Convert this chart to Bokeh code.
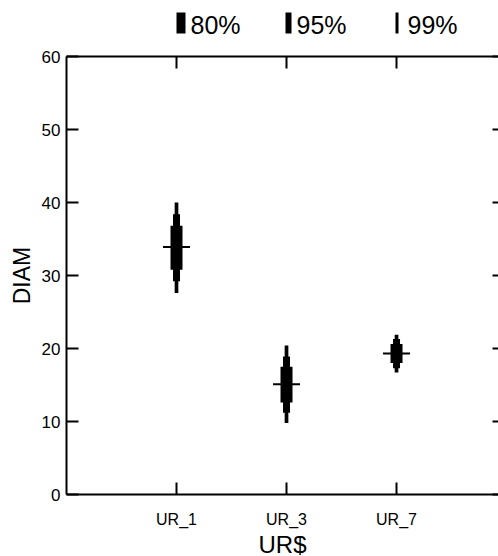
from bokeh.plotting import figure
from bokeh.models import Range1d, LinearAxis, FixedTicker, ColumnDataSource
from bokeh.layouts import column
from bokeh.embed import file_html
from bokeh.resources import INLINE
from bokeh.core.properties import value

# ---- data ----
categories = ["UR_1", "UR_3", "UR_7"]
means = [33.9, 15.1, 19.3]
lo80 = [30.8, 12.6, 18.0]
hi80 = [36.8, 17.5, 20.6]
lo95 = [29.2, 11.2, 17.3]
hi95 = [38.4, 18.9, 21.3]
lo99 = [27.6, 9.8, 16.7]
hi99 = [40.0, 20.4, 21.9]
legend_labels = ["80%", "95%", "99%"]
y_ticks = [0, 10, 20, 30, 40, 50, 60]

FONT = "Liberation Sans"
xpos = list(range(1, len(categories) + 1))

# ---- legend strip (pixel coordinates, y measured upward) ----
LH = 46
leg = figure(width=498, height=LH, x_range=Range1d(66, 498), y_range=Range1d(0, LH),
             output_backend="svg", toolbar_location=None, min_border=0,
             min_border_left=66, min_border_right=0,
             x_axis_location=None, y_axis_location=None)
leg.grid.visible = False
leg.outline_line_color = None
bar_left = [176, 285, 395]
bar_w = [9, 6, 3]
leg.quad(left=bar_left, right=[l + w for l, w in zip(bar_left, bar_w)],
         bottom=[LH - 33] * 3, top=[LH - 12] * 3, color="black", line_color=None)
leg.text(x=[190, 296, 407], y=[LH - 33 + 9] * 3, text=legend_labels,
         text_font=value(FONT), text_font_size="25px", text_baseline="alphabetic",
         text_align="left", text_color="black")

# ---- main plot ----
p = figure(width=498, frame_height=438, x_range=Range1d(0, 3.927), y_range=Range1d(0, 60),
           output_backend="svg", toolbar_location=None,
           min_border_left=66, min_border_right=0, min_border_top=10, min_border_bottom=62)
p.grid.visible = False
p.outline_line_color = None

src = ColumnDataSource(dict(x=xpos, m=means, lo80=lo80, hi80=hi80,
                            lo95=lo95, hi95=hi95, lo99=lo99, hi99=hi99))
p.segment(x0="x", x1="x", y0="lo99", y1="hi99", source=src, line_width=3.7,
          line_color="black", line_cap="butt")
p.segment(x0="x", x1="x", y0="lo95", y1="hi95", source=src, line_width=7,
          line_color="black", line_cap="butt")
p.segment(x0="x", x1="x", y0="lo80", y1="hi80", source=src, line_width=12,
          line_color="black", line_cap="butt")
p.scatter(x="x", y="m", source=src, marker="dash", size=27, line_width=2,
          line_color="black")

def style(ax, labels=True):
    ax.axis_line_width = 2
    ax.axis_line_color = "black"
    ax.major_tick_line_width = 2
    ax.major_tick_line_color = "black"
    ax.major_tick_in = 12
    ax.major_tick_out = 0
    ax.minor_tick_line_color = None
    ax.major_label_text_font = FONT
    ax.major_label_text_color = "black"
    ax.axis_label_text_font = FONT
    ax.axis_label_text_font_style = "normal"
    ax.axis_label_text_color = "black"
    if not labels:
        ax.major_label_text_font_size = "0px"
        ax.major_label_standoff = 0

xt = FixedTicker(ticks=xpos)
yt = FixedTicker(ticks=y_ticks)
xa = p.xaxis[0]
xa.ticker = xt
xa.major_label_overrides = {i: c for i, c in zip(xpos, categories)}
style(xa)
xa.major_label_text_font_size = "16px"
xa.major_label_standoff = 16
xa.axis_label = "UR$"
xa.axis_label_text_font_size = "24px"
xa.axis_label_standoff = 0

ya = p.yaxis[0]
ya.ticker = yt
style(ya)
ya.major_label_text_font_size = "17px"
ya.major_label_standoff = 6
ya.axis_label = "DIAM"
ya.axis_label_text_font_size = "23px"
ya.axis_label_standoff = 4

top = LinearAxis(ticker=xt)
style(top, labels=False)
top.major_label_overrides = {i: "" for i in xpos}
p.add_layout(top, "above")

right = LinearAxis(ticker=yt)
style(right, labels=False)
right.axis_line_color = None
right.major_tick_in = 6
right.major_label_overrides = {t: "" for t in y_ticks}
p.add_layout(right, "right")

layout = column(leg, p, spacing=0)
open("out.html", "w").write(file_html(layout, INLINE))
